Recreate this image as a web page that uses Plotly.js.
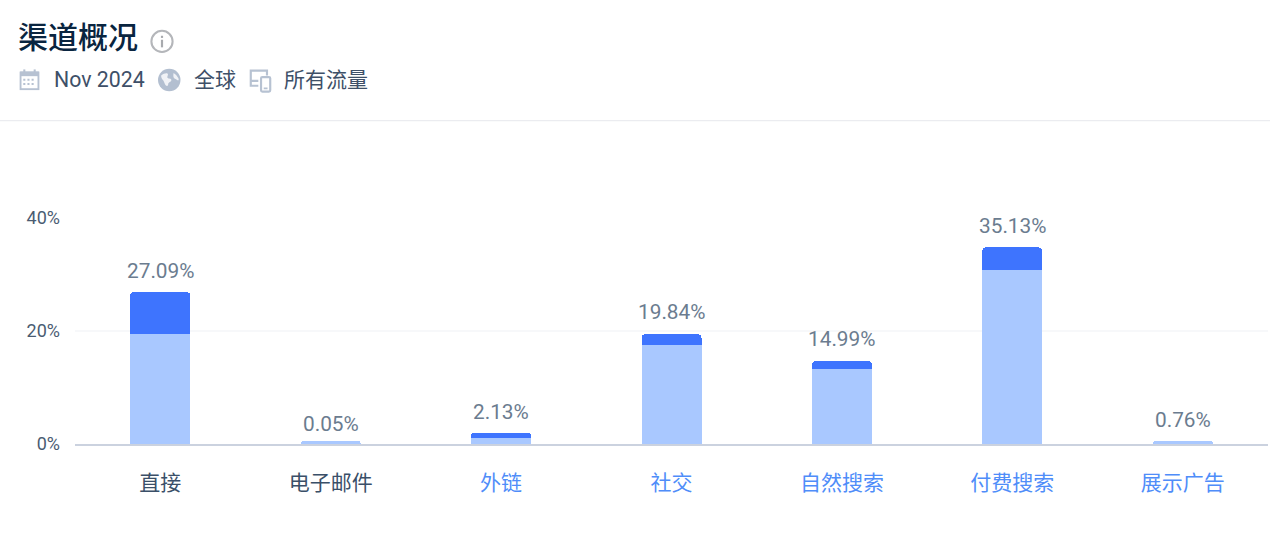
<!DOCTYPE html>
<html><head><meta charset="utf-8">
<script src="https://cdn.plot.ly/plotly-3.0.1.min.js"></script>
<style>html,body{margin:0;padding:0;background:#fff;overflow:hidden}#c{width:1270px;height:534px}</style>
</head><body><div id="c"></div>
<script>
const categories = ['直接','电子邮件','外链','社交','自然搜索','付费搜索','展示广告'];
const labelColors = ['#3a4f68','#3a4f68','#4f8df9','#4f8df9','#4f8df9','#4f8df9','#4f8df9'];
const lightValues = [19.5,0.55,1.1,17.6,13.2,30.8,0.55];
const darkValues = [7.4,0,0.93,1.85,1.46,4.0,0];
const totalValues = [27.09,0.05,2.13,19.84,14.99,35.13,0.76];
const totalLabels = ['27.09%','0.05%','2.13%','19.84%','14.99%','35.13%','0.76%'];
const yTicks = [0,20,40];
const yTickLabels = ['0%','20%','40%'];

const W=1270,H=534,L=75,R=2,T=218,B=89.5;
const FONT="Roboto, 'Noto Sans CJK SC', sans-serif";
const px=x=>(x-L)/(W-L-R), py=y=>1-(y-T)/(H-T-B);
const svg=s=>'data:image/svg+xml;utf8,'+encodeURIComponent('<svg xmlns="http://www.w3.org/2000/svg" width="48" height="48" viewBox="0 0 24 24">'+s+'</svg>');
const icon=(x,y,s,src)=>({source:svg(src),xref:'paper',yref:'paper',x:px(x),y:py(y),sizex:s/(W-L-R),sizey:s/(H-T-B),sizing:'contain',xanchor:'left',yanchor:'top',layer:'above'});
const note=(x,y,text,size,color)=>({xref:'paper',yref:'paper',x:px(x),y:py(y),xanchor:'left',yanchor:'middle',showarrow:false,text,font:{family:FONT,size,color}});

const data=[
 {type:'bar',x:categories,y:lightValues,marker:{color:'#a9c8ff',line:{width:0}},hoverinfo:'skip'},
 {type:'bar',x:categories,y:darkValues,marker:{color:'#3e74fe',line:{width:0}},hoverinfo:'skip'}
];
const valueNotes=categories.map((c,i)=>({xref:'x',yref:'y',x:c,y:totalValues[i],yanchor:'bottom',xanchor:'center',yshift:6,showarrow:false,
 text:totalLabels[i],font:{family:FONT,size:20.8,color:'#6b7c8f'}}));
const layout={
 width:W,height:H,showlegend:false,paper_bgcolor:'#fff',plot_bgcolor:'#fff',
 margin:{l:L,r:R,t:T,b:B,pad:0},barmode:'stack',bargap:0.648,barcornerradius:4,
 font:{family:FONT},
 title:{text:'渠道概况',xref:'container',yref:'container',x:18/W,xanchor:'left',y:1-37/H,yanchor:'middle',
  font:{family:FONT,size:30,weight:500,color:'#092540'}},
 xaxis:{type:'category',categoryorder:'array',categoryarray:categories,tickmode:'array',tickvals:categories,
  ticktext:categories.map((c,i)=>`<span style="color:${labelColors[i]}">${c}</span>`),
  tickfont:{family:FONT,size:21,color:'#3a4f68'},ticks:'',ticklabelstandoff:19,showgrid:false,zeroline:false,showline:true,linecolor:'#cbd2df',linewidth:1.5,fixedrange:true},
 yaxis:{range:[0,40],tickmode:'array',tickvals:yTicks,ticktext:yTickLabels,ticks:'',ticklabelstandoff:14,
  tickfont:{family:FONT,size:18,color:'#4a5c72'},showgrid:true,gridcolor:'#f7f8fa',gridwidth:1.5,zeroline:false,showline:false,fixedrange:true},
 annotations:[
  note(52,79.5,'Nov 2024',21.3,'#3e5068'),
  note(192,79.5,'全球',21,'#3e5068'),
  note(282,79.5,'所有流量',21,'#3e5068')
 ].concat(valueNotes),
 shapes:[{type:'line',xref:'paper',yref:'paper',x0:px(0),x1:px(W),y0:py(120.5),y1:py(120.5),line:{color:'#e6e8ec',width:1}}],
 images:[
  icon(149,28,26,'<circle cx="12" cy="12" r="9.8" fill="none" stroke="#b4b6ba" stroke-width="1.9"/><rect x="11" y="10.5" width="2" height="7" fill="#a8aaae"/><rect x="11" y="6.8" width="2" height="2" fill="#a8aaae"/>'),
  icon(17,67,25,'<rect x="3.4" y="5" width="17.2" height="16" fill="none" stroke="#b7c2d2" stroke-width="1.8"/><rect x="3" y="4" width="18" height="4.5" fill="#b7c2d2"/><rect x="6" y="2" width="2" height="3" fill="#b7c2d2"/><rect x="16" y="2" width="2" height="3" fill="#b7c2d2"/><path d="M6 11h2v2H6zM10 11h2v2h-2zM14 11h2v2h-2zM6 15h2v2H6zM10 15h2v2h-2zM14 15h2v2h-2z" fill="#b7c2d2"/>'),
  icon(156.5,67,25.5,'<circle cx="12" cy="12" r="10.6" fill="#b3bfd0"/><path d="M4.5 7.5c2-1.5 5-2.5 6-1.5s-1 3 0 4 3.5 0 3.5 2-3 2-3 4-2 2-3 0-1-3-2-4-2-3-1.5-4.500zM16 5.500c1 0 3.500 2.500 4.500 4.500s0 3-1 2-2-1-3-2 -.5-4.500-.5-4.500z" fill="#fff" opacity=".8"/>'),
  icon(247.5,67,26,'<path d="M18 7.500V3H3v9.500h7M3 12.500v4.500h7" fill="none" stroke="#b7c2d2" stroke-width="2"/><rect x="12.500" y="9" width="8.500" height="13.500" rx="1.200" fill="none" stroke="#b7c2d2" stroke-width="2"/><path d="M15 19.500h3.500" stroke="#b7c2d2" stroke-width="1.500"/>')
 ]
};
Plotly.newPlot('c',data,layout,{staticPlot:true,displayModeBar:false});
</script></body></html>
